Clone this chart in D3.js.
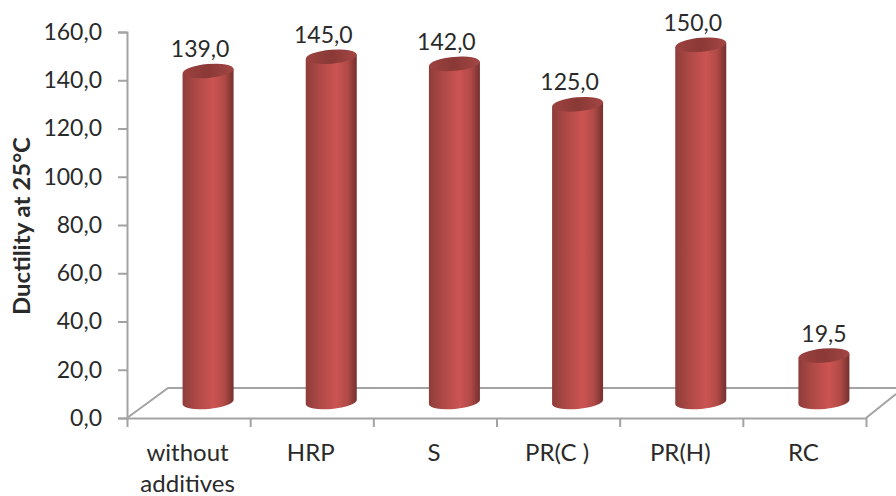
<!DOCTYPE html>
<html>
<head>
<meta charset="utf-8">
<script src="https://cdn.jsdelivr.net/npm/d3@7/dist/d3.min.js"></script>
<style>
html,body{margin:0;padding:0;background:#fff}
svg{display:block}
text{font-family:Lato,"Open Sans",sans-serif;fill:#2a2a2a}
</style>
</head>
<body>
<svg id="chart" width="896" height="496"></svg>
<script>
const categories = ["without additives", "HRP", "S", "PR(C )", "PR(H)", "RC"];
const ductility = [139.0, 145.0, 142.0, 125.0, 150.0, 19.5];
const yTicks = [0, 20, 40, 60, 80, 100, 120, 140, 160];
const yTitle = "Ductility at 25°C";

const svg = d3.select("#chart");
const axisColor = "#a3a3a3";
const comma = v => v.toFixed(1).replace(".", ",");

// Front edge of the 3D floor and the depth shift of the columns inside it
const plot = {left: 127, right: 866, top: 32, bottom: 418};
const depth = {floorX: 41, floorY: 30, barX: 19.5, barBase: 402, barTop: 21};

const x = d3.scaleBand().domain(categories).range([plot.left, plot.right]);
const xEdges = d3.scaleLinear().domain([0, categories.length]).range([plot.left, plot.right]);
const y = d3.scaleLinear().domain([0, 160]).range([plot.bottom, plot.top]);
const yBar = d3.scaleLinear().domain([0, 160]).range([depth.barBase, depth.barTop]);

// Floor outline
svg.append("path")
  .attr("d", `M${plot.left},${plot.bottom}L${plot.left + depth.floorX},${plot.bottom - depth.floorY}L896,${plot.bottom - depth.floorY}`)
  .attr("fill", "none").attr("stroke", axisColor).attr("stroke-width", 2);
svg.append("path")
  .attr("d", `M${plot.right},${plot.bottom}L896,${plot.bottom - 24}`)
  .attr("fill", "none").attr("stroke", axisColor).attr("stroke-width", 2);

// Value axis
const yAxis = svg.append("g")
  .attr("transform", `translate(${plot.left},0)`)
  .call(d3.axisLeft(y).tickValues(yTicks).tickFormat(comma).tickSize(9).tickPadding(16));
yAxis.selectAll("path,line").attr("stroke", axisColor).attr("stroke-width", 2);
yAxis.selectAll("text").attr("font-size", 23).attr("font-family", "Lato").attr("fill", "#2a2a2a");

// Category axis: ticks fall on band edges, labels on band centres
const xAxis = svg.append("g")
  .attr("transform", `translate(0,${plot.bottom})`)
  .call(d3.axisBottom(xEdges).tickValues(d3.range(categories.length + 1)).tickFormat("").tickSize(9).tickSizeOuter(0));
xAxis.selectAll("path,line").attr("stroke", axisColor).attr("stroke-width", 2);

const wrapped = {"without additives": ["without", "additives"]};
categories.forEach(c => {
  const t = svg.append("text")
    .attr("text-anchor", "middle")
    .attr("font-size", 24)
    .attr("y", 461);
  (wrapped[c] || [c]).forEach((line, i) => {
    t.append("tspan").attr("x", x(c) + x.bandwidth() / 2 - 1).attr("dy", i ? 31 : 0).text(line);
  });
});

// Axis title
svg.append("text")
  .attr("transform", "translate(30,226) rotate(-90)")
  .attr("text-anchor", "middle")
  .attr("font-size", 22)
  .attr("font-weight", 700)
  .attr("fill", "#111")
  .attr("textLength", 178)
  .attr("lengthAdjust", "spacingAndGlyphs")
  .text(yTitle);

// Column shading
const defs = svg.append("defs");
const side = defs.append("linearGradient").attr("id", "side");
[[0, "#8f3d3a"], [0.3, "#b04a47"], [0.6, "#cc5452"], [0.82, "#b04a47"], [1, "#74302e"]]
  .forEach(([o, c]) => side.append("stop").attr("offset", o).attr("stop-color", c));
const cap = defs.append("linearGradient").attr("id", "cap");
[[0, "#9c4240"], [0.5, "#8a3936"], [1, "#a34644"]]
  .forEach(([o, c]) => cap.append("stop").attr("offset", o).attr("stop-color", c));

const rx = 25.5, ry = 7, tilt = Math.tan(5 * Math.PI / 180);

const bars = svg.append("g").selectAll("g")
  .data(categories.map((c, i) => ({c, v: ductility[i]})))
  .join("g")
  .attr("transform", d => `translate(${x(d.c) + x.bandwidth() / 2 + depth.barX},0)`);

// Body: straight sides closed by the lower half of the tilted base ellipse
bars.append("path")
  .attr("fill", "url(#side)")
  .attr("d", d => {
    const t = yBar(d.v), b = yBar(0), s = rx * tilt;
    return `M${-rx},${t + s}L${-rx},${b + s}A${rx},${ry} -5 0 0 ${rx},${b - s}L${rx},${t - s}Z`;
  });

bars.append("ellipse")
  .attr("cy", d => yBar(d.v))
  .attr("rx", rx).attr("ry", ry)
  .attr("transform", d => `rotate(-5,0,${yBar(d.v)})`)
  .attr("fill", "url(#cap)");

// Value labels sit slightly left of the columns, except over the short last one
const labelShift = i => i === categories.length - 1 ? 0 : -8;
bars.append("text")
  .attr("x", (d, i) => labelShift(i))
  .attr("y", d => yBar(d.v) - 14)
  .attr("text-anchor", "middle")
  .attr("font-size", 23)
  .text(d => comma(d.v));
</script>
</body>
</html>
